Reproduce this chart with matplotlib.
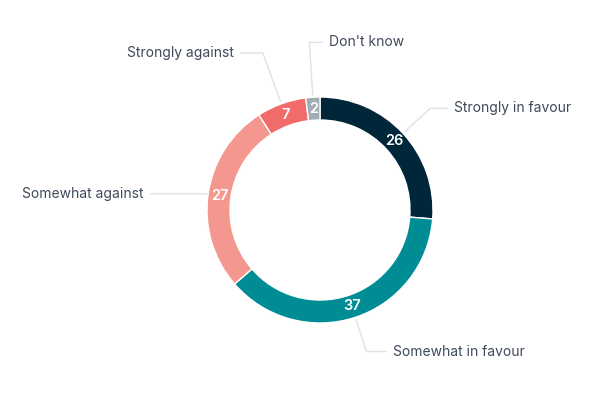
import matplotlib
matplotlib.use("Agg")
import matplotlib.pyplot as plt
import numpy as np

categories = ["Strongly in favour", "Somewhat in favour", "Somewhat against", "Strongly against", "Don't know"]
values = [26, 37, 27, 7, 2]
colors = ["#00263a", "#008c95", "#f4978e", "#f26b6b", "#a1acb3"]

# layout (pixel coords, y down)
CX, CY = 320, 210
R_OUT, WIDTH = 113, 23
elbow_r = [150, 149, 114, 167, 168]
line_end_x = [448, 387, 150, 240, 323]

plt.rcParams['font.family'] = ['Inter', 'DejaVu Sans']
fig = plt.figure(figsize=(6, 4), dpi=100)
ax = fig.add_axes([0, 0, 1, 1])
ax.set_xlim(0, 600)
ax.set_ylim(0, 400)
ax.set_aspect('equal')
ax.axis('off')

wedges, _ = ax.pie(values, colors=colors, startangle=90, counterclock=False,
                   center=(CX, 400 - CY), radius=R_OUT,
                   wedgeprops=dict(width=WIDTH, edgecolor='white', linewidth=1))
ax.set_xlim(0, 600)
ax.set_ylim(0, 400)

total = sum(values)
cum = 0
for i, (cat, v) in enumerate(zip(categories, values)):
    mid = 90 - (cum + v / 2) / total * 360
    cum += v
    a = np.deg2rad(mid)
    rm = R_OUT - WIDTH / 2
    ax.text(CX + rm * np.cos(a), 400 - CY + rm * np.sin(a), str(v), color='white',
            fontsize=10.5, fontweight='semibold', ha='center', va='center')
    sx, sy = CX + (R_OUT + 2) * np.cos(a), 400 - CY + (R_OUT + 2) * np.sin(a)
    ex, ey = CX + elbow_r[i] * np.cos(a), 400 - CY + elbow_r[i] * np.sin(a)
    lx = line_end_x[i]
    ax.plot([sx, ex, lx], [sy, ey, ey], color='#dde2e7', lw=1, solid_capstyle='butt')
    right = lx > ex
    ax.text(lx + (6 if right else -6), ey, cat, color='#3e4a5a', fontsize=10,
            ha='left' if right else 'right', va='center')

fig.savefig('out.png', dpi=100, facecolor='white')
